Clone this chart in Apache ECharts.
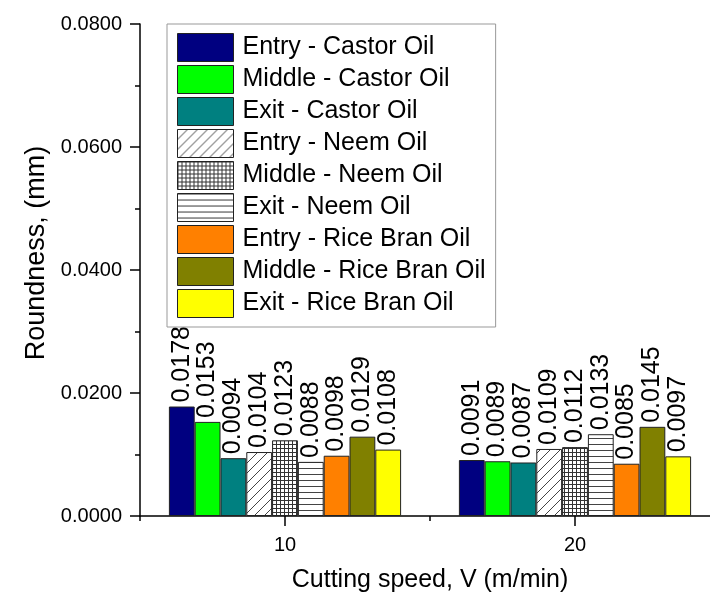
<!DOCTYPE html>
<html>
<head>
<meta charset="utf-8">
<script src="https://cdn.jsdelivr.net/npm/echarts@6/dist/echarts.min.js"></script>
<style>
html,body{margin:0;padding:0;background:#fff;}
#chart{width:710px;height:595px;}
</style>
</head>
<body>
<div id="chart"></div>
<script>
// ---- data ----
const axisCategories = ['5', '10', '15', '20', '25'];
const speeds = ['10', '20'];
const seriesNames = [
  'Entry - Castor Oil', 'Middle - Castor Oil', 'Exit - Castor Oil',
  'Entry - Neem Oil', 'Middle - Neem Oil', 'Exit - Neem Oil',
  'Entry - Rice Bran Oil', 'Middle - Rice Bran Oil', 'Exit - Rice Bran Oil'
];
const entryCastor  = [0.0178, 0.0091];
const middleCastor = [0.0153, 0.0089];
const exitCastor   = [0.0094, 0.0087];
const entryNeem    = [0.0104, 0.0109];
const middleNeem   = [0.0123, 0.0112];
const exitNeem     = [0.0088, 0.0133];
const entryRice    = [0.0098, 0.0085];
const middleRice   = [0.0129, 0.0145];
const exitRice     = [0.0108, 0.0097];
const yTicks = [0, 0.02, 0.04, 0.06, 0.08];

const allValues = [entryCastor, middleCastor, exitCastor, entryNeem, middleNeem, exitNeem, entryRice, middleRice, exitRice];

// ---- patterns ----
function makeTile(w, h, draw) {
  const c = document.createElement('canvas');
  c.width = w; c.height = h;
  const ctx = c.getContext('2d');
  ctx.fillStyle = '#fff';
  ctx.fillRect(0, 0, w, h);
  draw(ctx, w, h);
  return { image: c, repeat: 'repeat' };
}
const diagPattern = makeTile(10, 10, (ctx, w, h) => {
  ctx.strokeStyle = '#444'; ctx.lineWidth = 1;
  ctx.beginPath();
  ctx.moveTo(-1, h + 1); ctx.lineTo(w + 1, -1);
  ctx.moveTo(-1, 1); ctx.lineTo(1, -1);
  ctx.moveTo(w - 1, h + 1); ctx.lineTo(w + 1, h - 1);
  ctx.stroke();
});
const gridPattern = makeTile(4, 4, (ctx, w, h) => {
  ctx.fillStyle = '#333';
  ctx.fillRect(0, 0, w, 1);
  ctx.fillRect(0, 0, 1, h);
});
const horizPattern = makeTile(6, 6, (ctx, w, h) => {
  ctx.fillStyle = '#444';
  ctx.fillRect(0, 0, w, 1);
});

const fills = ['#000080', '#00ff00', '#008080', diagPattern, gridPattern, horizPattern, '#ff8000', '#808000', '#ffff00'];

const FONT = '"Liberation Sans", Arial, sans-serif';

const series = seriesNames.map((name, i) => ({
  name: name,
  type: 'bar',
  barWidth: 25.8,
  barGap: '0%',
  itemStyle: { color: fills[i], borderColor: '#222', borderWidth: 1 },
  label: {
    show: true,
    position: 'top',
    rotate: 90,
    align: 'left',
    verticalAlign: 'middle',
    distance: 4,
    fontFamily: FONT,
    fontSize: 25,
    color: '#000',
    formatter: p => Number(p.value).toFixed(4)
  },
  data: axisCategories.map(c => {
    const k = speeds.indexOf(c);
    return k >= 0 ? allValues[i][k] : null;
  })
}));

const chart = echarts.init(document.getElementById('chart'), null, { renderer: 'canvas' });
chart.setOption({
  animation: false,
  backgroundColor: '#fff',
  grid: { left: 140, top: 24, width: 580, bottom: 79, containLabel: false, outerBoundsMode: 'none' },
  legend: {
    orient: 'vertical',
    left: 167,
    top: 24,
    padding: [9, 10, 9, 10],
    itemGap: 3,
    itemWidth: 56,
    itemHeight: 28,
    icon: 'rect',
    borderColor: '#999',
    borderWidth: 1,
    itemStyle: { borderColor: '#222', borderWidth: 1 },
    textStyle: { fontFamily: FONT, fontSize: 25, color: '#000', padding: [0, 0, 0, 4] },
    data: seriesNames
  },
  xAxis: [{
    type: 'category',
    data: axisCategories,
    boundaryGap: false,
    axisLine: { show: true, lineStyle: { color: '#000', width: 1.5 } },
    axisTick: { show: true, length: 10, lineStyle: { color: '#000', width: 1.5 },
      interval: (idx, val) => speeds.indexOf(val) >= 0 },
    axisLabel: { show: true, margin: 19, fontFamily: FONT, fontSize: 20, color: '#000',
      interval: (idx, val) => speeds.indexOf(val) >= 0 },
    splitLine: { show: false },
    name: 'Cutting speed, V (m/min)',
    nameLocation: 'middle',
    nameGap: 52,
    nameTextStyle: { fontFamily: FONT, fontSize: 25, color: '#000' }
  }, {
    type: 'category',
    data: axisCategories,
    boundaryGap: false,
    position: 'bottom',
    axisLine: { show: false },
    axisTick: { show: true, length: 5, lineStyle: { color: '#000', width: 1.5 },
      interval: (idx, val) => speeds.indexOf(val) < 0 },
    axisLabel: { show: false },
    splitLine: { show: false }
  }],
  yAxis: {
    type: 'value',
    min: yTicks[0],
    max: yTicks[yTicks.length - 1],
    interval: yTicks[1] - yTicks[0],
    axisLine: { show: true, lineStyle: { color: '#000', width: 1.5 } },
    axisTick: { show: true, length: 10, lineStyle: { color: '#000', width: 1.5 } },
    minorTick: { show: true, splitNumber: 2, length: 5, lineStyle: { color: '#000', width: 1.5 } },
    axisLabel: { margin: 18, fontFamily: FONT, fontSize: 20, color: '#000',
      formatter: v => v.toFixed(4) },
    splitLine: { show: false },
    name: 'Roundness, (mm)',
    nameLocation: 'middle',
    nameGap: 90,
    nameTextStyle: { fontFamily: FONT, fontSize: 27, color: '#000', padding: [0, 0, 0, 34] }
  },
  series: series
});
</script>
</body>
</html>
